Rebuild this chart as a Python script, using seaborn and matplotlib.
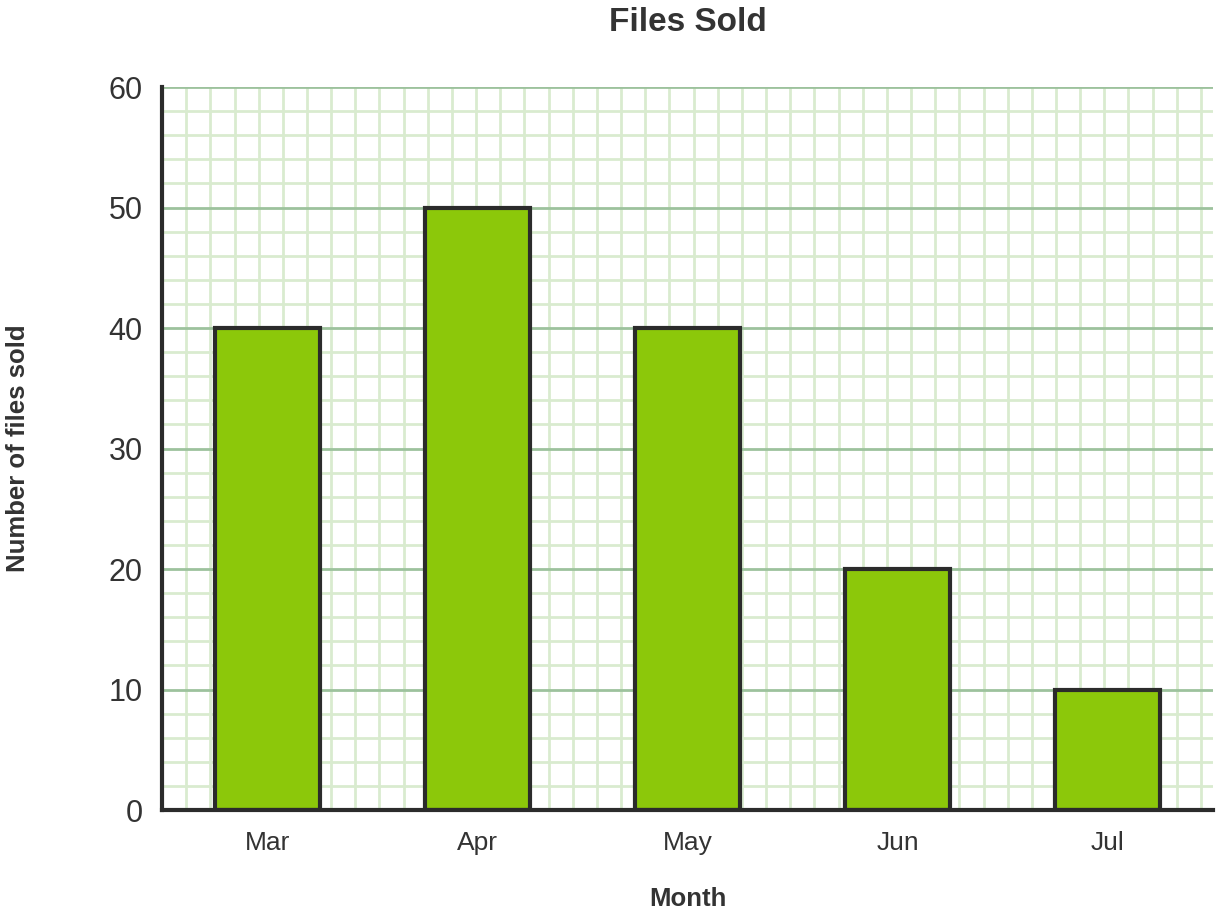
import numpy as np
import pandas as pd
import seaborn as sns
import matplotlib.pyplot as plt
from matplotlib.ticker import FixedLocator, MultipleLocator

months = ["Mar", "Apr", "May", "Jun", "Jul"]
files_sold = [40, 50, 40, 20, 10]
y_ticks = [0, 10, 20, 30, 40, 50, 60]

sns.set_style("white")
plt.rcParams['font.family'] = ['Liberation Sans', 'DejaVu Sans']

text_color = '#333333'
bar_color = '#8cc80a'
edge_color = '#2b2b2b'

df = pd.DataFrame({"Month": months, "Files": files_sold})

fig = plt.figure(figsize=(12.2, 9.13), dpi=100)
ax = fig.add_axes([0.1328, 0.1128, 0.8615, 0.7919])

sns.barplot(data=df, x="Month", y="Files", order=months, color=bar_color,
            edgecolor=edge_color, linewidth=3, width=0.5, saturation=1, ax=ax)

ax.set_xlim(-0.5, len(months) - 0.5)
ax.set_ylim(0, 60)
ax.set_yticks(y_ticks)

# graph-paper grid
ax.yaxis.set_minor_locator(MultipleLocator(2))
ax.xaxis.set_minor_locator(FixedLocator(np.arange(-0.5, 4.5, 5 / 43.5)[1:]))
ax.set_axisbelow(True)
ax.grid(which='minor', axis='both', color='#d9ebcf', linewidth=2)
ax.grid(which='major', axis='y', color='#9dc29d', linewidth=2)
ax.grid(which='major', axis='x', visible=False)

for side in ['top', 'right']:
    ax.spines[side].set_visible(False)
for side in ['left', 'bottom']:
    ax.spines[side].set_linewidth(3)
    ax.spines[side].set_color(edge_color)
    ax.spines[side].set_zorder(5)

ax.tick_params(which='both', length=0)
ax.tick_params(axis='y', labelsize=22, labelcolor=text_color, pad=14)
ax.tick_params(axis='x', labelsize=19, labelcolor=text_color, pad=15)

ax.set_xlabel("Month", fontsize=18.5, fontweight='bold', color=text_color)
ax.set_ylabel("Number of files sold", fontsize=18.5, fontweight='bold', color=text_color)
ax.yaxis.set_label_coords(-0.1256, 0.5)
ax.xaxis.set_label_coords(0.5, -0.1065)
fig.suptitle("Files Sold", x=0.564, y=0.992, fontsize=24, fontweight='bold', color=text_color)

fig.savefig("out.png", dpi=100)
